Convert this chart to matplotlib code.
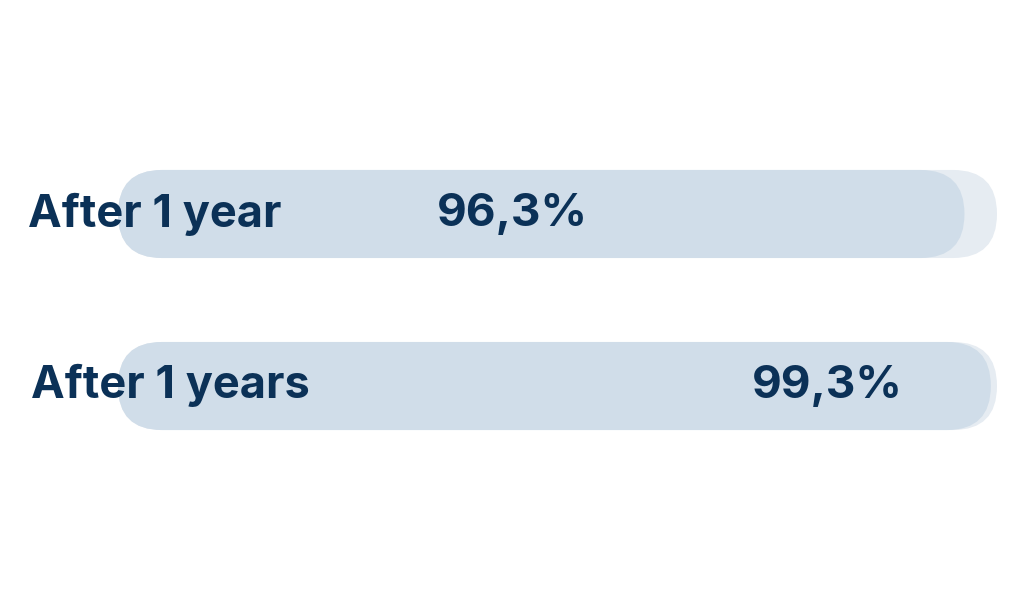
import matplotlib.pyplot as plt
from matplotlib.patches import FancyBboxPatch

# dados
labels = ['After 1 year', 'After 1 years']
values = [96.3, 99.3]
value_text = ['96,3%', '99,3%']
track_max = 100

fill_color = '#d0dde9'
track_color = '#e6ecf2'
text_color = '#0b3157'

fig = plt.figure(figsize=(10.24, 6), dpi=100)
ax = fig.add_axes([118 / 1024, 0, 879 / 1024, 1])
ax.set_xlim(0, 100)
ax.set_ylim(2.244, -1.244)
ax.axis('off')

px_x = 879 / 100   # pixels por unidade em x
px_y = 172         # pixels por unidade em y
aspect = px_x / px_y
h = 0.512
r = 44 / px_x

for i, (lab, v, vt) in enumerate(zip(labels, values, value_text)):
    # trilha de fundo
    ax.add_patch(FancyBboxPatch((0, i - h / 2), track_max, h,
                                boxstyle=f'round,pad=0,rounding_size={r}',
                                mutation_aspect=aspect, fc=track_color, ec='none'))
    # barra
    ax.add_patch(FancyBboxPatch((0, i - h / 2), v, h,
                                boxstyle=f'round,pad=0,rounding_size={r}',
                                mutation_aspect=aspect, fc=fill_color, ec='none'))

# rótulos das categorias
ax.text(-10.2, 0.005, labels[0], ha='left', va='center', fontsize=32.5, fontweight='bold',
        family='Inter', color=text_color, clip_on=False)
ax.text(-9.9, 0.995, labels[1], ha='left', va='center', fontsize=32.5, fontweight='bold',
        family='Inter', color=text_color, clip_on=False)

# valores
ax.text(36.3, 0, value_text[0], ha='left', va='center', fontsize=33, fontweight='bold',
        family='Inter', color=text_color)
ax.text(72.1, 1, value_text[1], ha='left', va='center', fontsize=33, fontweight='bold',
        family='Inter', color=text_color)

fig.savefig('out.png', dpi=100)
